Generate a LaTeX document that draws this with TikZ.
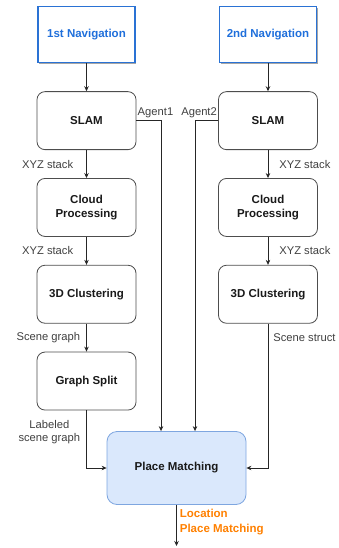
\documentclass[tikz,border=0pt]{standalone}
\usepackage{fontspec}
\setmainfont{Liberation Sans}
\usepackage{tikz}
\usetikzlibrary{arrows.meta,positioning,shadows}

\definecolor{navblue}{HTML}{2A72D4}
\definecolor{navtext}{HTML}{1F6FDB}
\definecolor{pmfill}{HTML}{DAE8FC}
\definecolor{pmdraw}{HTML}{7EA6E0}
\definecolor{outorange}{HTML}{FF8000}
\definecolor{boxline}{HTML}{4D4D4D}
\definecolor{lbl}{HTML}{404040}

\tikzset{
    stagebox/.style={draw=boxline, line width=0.8pt, rounded corners=8pt,
        minimum width=99pt, minimum height=58pt, align=center,
        font=\fontsize{11.5}{13.5}\selectfont\bfseries, text=black!90},
    navbox/.style={draw=navblue, line width=1.5pt, fill=white,
        minimum width=97pt, minimum height=56pt,
        drop shadow={shadow xshift=1.2pt, shadow yshift=-1.2pt, opacity=0.7},
        font=\fontsize{11.5}{13.5}\selectfont\bfseries, text=navtext},
    flow/.style={-{Stealth[length=5pt,width=4.5pt]}, line width=0.7pt, draw=black!85},
    lab/.style={font=\fontsize{11.2}{13.5}\selectfont, text=lbl, inner sep=0pt}
}

\begin{document}
\begin{tikzpicture}[x=1pt, y=-1pt, node distance=28pt]
    \useasboundingbox (0,0) rectangle (339,548);

    % left chain
    \node [navbox] (nav1) at (86.5,34.5) {1st Navigation};
    \node [stagebox, below=of nav1] (slam1) {SLAM};
    \node [stagebox, below=of slam1] (cloud1) {Cloud\\Processing};
    \node [stagebox, below=of cloud1] (clust1) {3D Clustering};
    \node [stagebox, below=of clust1] (split) {Graph Split};

    % right chain
    \node [navbox] (nav2) at (268,34.5) {2nd Navigation};
    \node [stagebox, below=of nav2] (slam2) {SLAM};
    \node [stagebox, below=of slam2] (cloud2) {Cloud\\Processing};
    \node [stagebox, below=of cloud2] (clust2) {3D Clustering};

    \node [stagebox, draw=pmdraw, fill=pmfill, rounded corners=10pt,
        minimum width=139pt, minimum height=73pt] (pm) at (176.5,468) {Place Matching};
    \coordinate (out) at (176.5,546);

    \draw[flow] (nav1) -- (slam1);
    \draw[flow] (slam1) -- node[lab, left=13pt] {XYZ stack} (cloud1);
    \draw[flow] (cloud1) -- node[lab, left=13pt] {XYZ stack} (clust1);
    \draw[flow] (clust1) -- node[lab, left=6pt] {Scene graph} (split);
    \draw[flow] (split) |- node[lab, pos=0.19, left=6pt, align=center] {Labeled\\scene graph} (pm);

    \draw[flow] (nav2) -- (slam2);
    \draw[flow] (slam2) -- node[lab, right=11pt] {XYZ stack} (cloud2);
    \draw[flow] (cloud2) -- node[lab, right=11pt] {XYZ stack} (clust2);
    \draw[flow] (clust2) |- node[lab, pos=0.048, right=5pt] {Scene struct} (pm);

    \draw[flow] (slam1) -| node[lab, pos=0.02, above right=2pt and 0pt] {Agent1} ([xshift=-15.5pt]pm.north);
    \draw[flow] (slam2) -| node[lab, pos=0.02, above left=2pt and 0pt] {Agent2} ([xshift=18.5pt]pm.north);

    \draw[flow] (pm) -- node[pos=0.1, anchor=north west, inner sep=0pt, xshift=3pt, align=left,
        font=\fontsize{11.5}{15}\selectfont\bfseries, text=outorange] {Location\\Place Matching} (out);
\end{tikzpicture}
\end{document}
